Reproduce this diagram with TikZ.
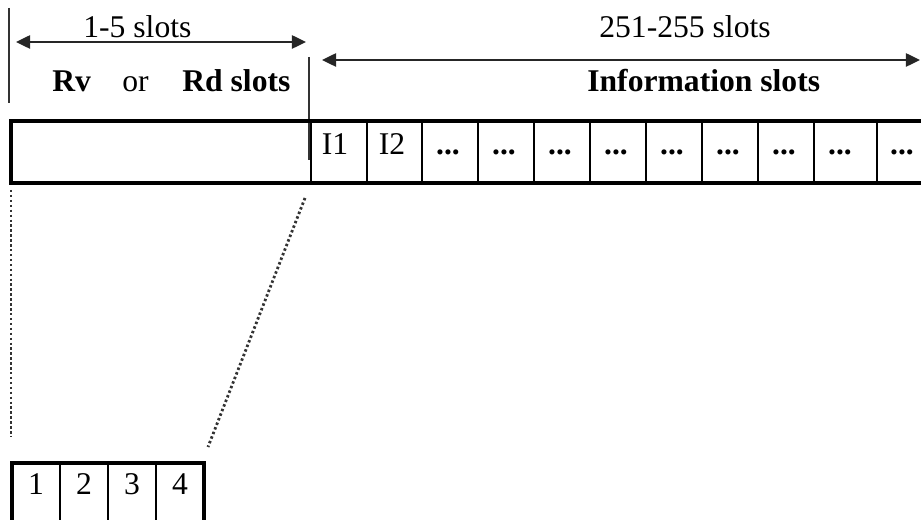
\documentclass[tikz,border=0pt]{standalone}
\usepackage{fontspec}
\setmainfont{Liberation Serif}
\usetikzlibrary{arrows.meta}
\tikzset{
  band/.style={line width=1.9pt},
  divider/.style={line width=1.1pt},
  tickline/.style={line width=1.1pt, black!80},
  dimarrow/.style={line width=1.2pt, black!85,
    {Triangle[length=8pt,width=7.5pt]}-{Triangle[length=8pt,width=7.5pt]}},
  zoomline/.style={line width=1.6pt, black!80, dash pattern=on 1.4pt off 1.4pt},
  lbl/.style={inner sep=0pt, font=\fontsize{18}{20}\selectfont},
}
\begin{document}
\begin{tikzpicture}[x=0.02cm,y=-0.02cm]
\useasboundingbox (0,0) rectangle (921,520);
% limits of the two fields
\coordinate (leftTop) at (9,8);
\coordinate (leftBot) at (9,103);
\coordinate (midTop) at (309,57);
\coordinate (midBot) at (309,160);
\draw[tickline] (leftTop) -- (leftBot);
\draw[tickline] (midTop) -- (midBot);
% dimension arrows
\coordinate (rvA) at (16,42);
\coordinate (rvB) at (306,42);
\coordinate (infA) at (322,60);
\coordinate (infB) at (920,60);
\draw[dimarrow] (rvA) -- (rvB);
\draw[dimarrow] (infA) -- (infB);
\node[lbl, anchor=base west] (rvnum) at (83,38) {1-5 slots};
\node[lbl, anchor=base] (infnum) at (685,38) {251-255 slots};
\node[lbl, anchor=base west] (rv) at (52,92) {\textbf{Rv}};
\node[lbl, anchor=base west] (or) at (122,92) {or};
\node[lbl, anchor=base west] (rd) at (182,92) {\textbf{Rd slots}};
\node[lbl, anchor=base west] (inf) at (587,92) {\textbf{Information slots}};
% frame band
\coordinate (bandNW) at (9,121);
\coordinate (bandNE) at (921,121);
\coordinate (bandSW) at (9,183);
\coordinate (bandSE) at (921,183);
\draw[band] (bandNW) -- (bandNE);
\draw[band] (bandSW) -- (bandSE);
\draw[band] (11,121) -- (11,183);
\foreach \x in {311,367,422,478,534,590,646,702,758,814,877}
  \draw[divider] (\x,121) -- (\x,183);
\node[lbl, anchor=base] (i1) at (335,155) {I1};
\node[lbl, anchor=base] (i2) at (392,155) {I2};
\foreach \x [count=\k] in {448,504,560,616,672,728,784,840,902}
  \node[lbl, anchor=base] (dots\k) at (\x,155) {\textbf{...}};
% zoom onto the Rv/Rd part
\coordinate (zlA) at (11,190);
\coordinate (zlB) at (11,437);
\coordinate (zrA) at (305,198);
\coordinate (zrB) at (208,447);
\draw[zoomline] (zlA) -- (zlB);
\draw[zoomline] (zrA) -- (zrB);
% small slot box
\coordinate (boxNW) at (12,463);
\coordinate (boxNE) at (204,463);
\coordinate (boxSW) at (12,520);
\coordinate (boxSE) at (204,520);
\draw[band] (boxSW) -- (boxNW) -- (boxNE) -- (boxSE);
\foreach \x in {60,108,156}
  \draw[divider] (\x,463) -- (\x,520);
\foreach \x [count=\k] in {36,84,132,180}
  \node[lbl, anchor=base] (s\k) at (\x,495) {\k};
\end{tikzpicture}
\end{document}
